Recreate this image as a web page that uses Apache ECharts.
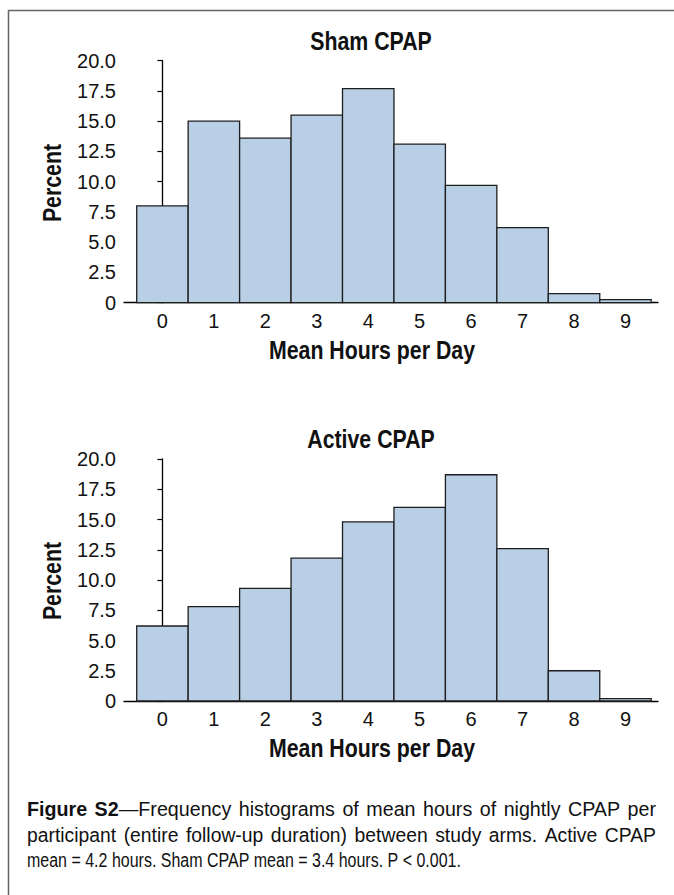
<!DOCTYPE html>
<html><head><meta charset="utf-8">
<script src="https://cdn.jsdelivr.net/npm/echarts@6/dist/echarts.min.js"></script>
<style>html,body{margin:0;padding:0;background:#fff}#c{width:674px;height:895px}</style>
</head><body><div id="c"></div>
<script>
// ---- data ----
const hours = [0, 1, 2, 3, 4, 5, 6, 7, 8, 9];
const shamPercent = [8.0, 15.0, 13.6, 15.5, 17.7, 13.1, 9.7, 6.2, 0.75, 0.25];
const activePercent = [6.2, 7.8, 9.3, 11.8, 14.8, 16.0, 18.7, 12.6, 2.5, 0.2];
const panelTitles = ['Sham CPAP', 'Active CPAP'];
const xAxisTitle = 'Mean Hours per Day';
const yAxisTitle = 'Percent';
const captionLines = [
  [[['Figure', true]], [['S2', true], ['\u2014Frequency', false]], 'histograms', 'of', 'mean', 'hours', 'of', 'nightly', 'CPAP', 'per'],
  ['participant', '(entire', 'follow-up', 'duration)', 'between', 'study', 'arms.', 'Active', 'CPAP'],
  ['mean', '=', '4.2', 'hours.', 'Sham', 'CPAP', 'mean', '=', '3.4', 'hours.', 'P', '<', '0.001.']
];

// ---- style ----
const FONT = "'Liberation Sans', Arial, sans-serif";
const NARROW = 0.82;
const BAR_FILL = '#b9cfe6';
const BAR_STROKE = '#1e1e1e';
const INK = '#111';
const CAP_SIZE = 19.5;

const chart = echarts.init(document.getElementById('c'), null, {renderer: 'svg'});

function renderBin(params, api) {
  const x = api.value(0), y = api.value(1);
  const p0 = api.coord([x - 0.5, y]);
  const p1 = api.coord([x + 0.5, 0]);
  return {
    type: 'rect',
    shape: {x: p0[0], y: p0[1], width: p1[0] - p0[0], height: p1[1] - p0[1]},
    style: {fill: BAR_FILL, stroke: BAR_STROKE, lineWidth: 1.3}
  };
}

const grids = [
  {left: 124, top: 60.7, width: 534, height: 242},
  {left: 124, top: 459, width: 534, height: 242}
];

function makeX(i) {
  return {
    gridIndex: i, type: 'value', min: -0.747, max: 9.632,
    axisLine: {show: true, onZero: false, lineStyle: {color: '#000', width: 1.3}},
    axisTick: {show: false},
    splitLine: {show: false},
    axisLabel: {customValues: hours, color: INK, fontSize: 20, fontFamily: FONT, margin: 8}
  };
}
function makeY(i) {
  return {
    gridIndex: i, type: 'value', min: 0, max: 20, interval: 2.5,
    axisLine: {show: true, lineStyle: {color: '#000', width: 1.3}},
    axisTick: {show: true, length: 5, lineStyle: {color: '#000', width: 1.2}},
    splitLine: {show: false},
    axisLabel: {
      color: INK, fontSize: 20, fontFamily: FONT, margin: 8,
      formatter: v => (v === 0 ? '0' : v.toFixed(1))
    }
  };
}

// narrow (condensed) text helper
function narrowText(x, y, text, size, bold, rotation) {
  return {
    type: 'text', x: x, y: y, rotation: rotation || 0, scaleX: NARROW, silent: true,
    style: {text: text, font: (bold ? 'bold ' : '') + size + 'px ' + FONT, fill: INK,
            textAlign: 'center', textVerticalAlign: 'middle'}
  };
}

// caption: justified lines stretch glyphs (like the typeset original), last line is set naturally
const measureCtx = document.createElement('canvas').getContext('2d');
function segWidth(text, bold) {
  measureCtx.font = (bold ? 'bold ' : '') + CAP_SIZE + 'px ' + FONT;
  return measureCtx.measureText(text).width;
}
function normWord(w) { return typeof w === 'string' ? [[w, false]] : w; }
const CAP_LEFT = 27, CAP_RIGHT = 656, CAP_Y = [809, 835, 860], WORD_GAP = 7.5;
const captionEls = [];
captionLines.forEach((line, li) => {
  const words = line.map(normWord);
  const widths = words.map(ws => ws.reduce((s, sg) => s + segWidth(sg[0], sg[1]), 0));
  const total = widths.reduce((a, b) => a + b, 0);
  const justify = li < captionLines.length - 1;
  let sx = NARROW, gap = segWidth(' ', false) * NARROW;
  if (justify) {
    sx = Math.max(NARROW, (CAP_RIGHT - CAP_LEFT - WORD_GAP * (words.length - 1)) / total);
    gap = (CAP_RIGHT - CAP_LEFT - total * sx) / (words.length - 1);
  }
  let x = CAP_LEFT;
  words.forEach((ws, wi) => {
    const text = ws.map(sg => (sg[1] ? '{b|' : '{n|') + sg[0] + '}').join('');
    captionEls.push({
      type: 'text', x: x, y: CAP_Y[li], scaleX: sx, silent: true,
      style: {
        text: text, fill: INK, font: CAP_SIZE + 'px ' + FONT, textAlign: 'left', textVerticalAlign: 'middle',
        rich: {
          b: {fontSize: CAP_SIZE, fontWeight: 'bold', fontFamily: FONT, fill: INK},
          n: {fontSize: CAP_SIZE, fontFamily: FONT, fill: INK}
        }
      }
    });
    x += widths[wi] * sx + gap;
  });
});

const option = {
  animation: false,
  backgroundColor: '#fff',
  grid: grids,
  xAxis: [makeX(0), makeX(1)],
  yAxis: [makeY(0), makeY(1)],
  series: [
    {type: 'custom', xAxisIndex: 0, yAxisIndex: 0, renderItem: renderBin,
     data: hours.map((h, i) => [h, shamPercent[i]]), encode: {x: 0, y: 1}},
    {type: 'custom', xAxisIndex: 1, yAxisIndex: 1, renderItem: renderBin,
     data: hours.map((h, i) => [h, activePercent[i]]), encode: {x: 0, y: 1}}
  ],
  graphic: [
    {type: 'polyline', silent: true, shape: {points: [[8.5, 900], [8.5, 10.5], [680, 10.5]]},
     style: {stroke: '#666', lineWidth: 1.5, fill: null}},
    narrowText(371, 40.5, panelTitles[0], 26, true),
    narrowText(371, 438.5, panelTitles[1], 26, true),
    narrowText(372, 349.5, xAxisTitle, 26, true),
    narrowText(372, 748, xAxisTitle, 26, true),
    narrowText(52, 183, yAxisTitle, 26, true, Math.PI / 2),
    narrowText(52, 581, yAxisTitle, 26, true, Math.PI / 2)
  ].concat(captionEls)
};
chart.setOption(option);
</script>
</body></html>
